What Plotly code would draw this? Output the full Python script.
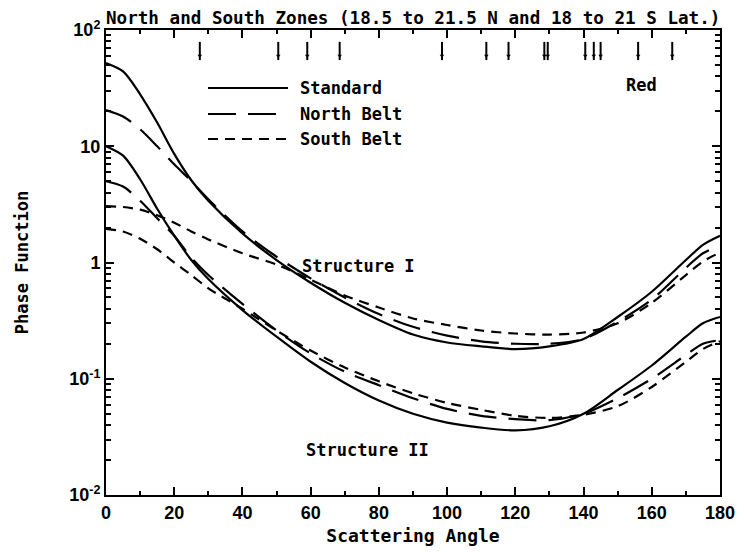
import plotly.graph_objects as go

# ---------------- data ----------------
angles = [0, 5, 10, 15, 20, 25, 30, 40, 50, 60, 70, 80, 90, 100, 110, 120,
          130, 140, 150, 160, 170, 175, 180]

# Structure I
std_I = [52, 44, 28, 16, 8.6, 5.1, 3.4, 1.78, 1.05, 0.67, 0.45, 0.32, 0.24,
         0.205, 0.19, 0.18, 0.19, 0.22, 0.34, 0.56, 1.05, 1.42, 1.7]
north_I = [20.5, 18, 14, 10, 7.0, 5.0, 3.5, 1.85, 1.12, 0.73, 0.5, 0.36, 0.28,
           0.235, 0.21, 0.2, 0.2, 0.22, 0.31, 0.48, 0.9, 1.2, 1.4]
south_I = [3.05, 3.0, 2.85, 2.55, 2.2, 1.85, 1.58, 1.2, 0.96, 0.71, 0.52,
           0.41, 0.33, 0.29, 0.26, 0.245, 0.24, 0.25, 0.3, 0.45, 0.78, 1.02, 1.22]

# Structure II
std_II = [10, 8.3, 5.2, 2.9, 1.7, 1.05, 0.72, 0.39, 0.23, 0.14, 0.092, 0.065,
          0.05, 0.042, 0.038, 0.036, 0.039, 0.05, 0.08, 0.13, 0.23, 0.3, 0.34]
north_II = [5.0, 4.5, 3.4, 2.4, 1.7, 1.1, 0.78, 0.44, 0.26, 0.165, 0.115,
            0.088, 0.068, 0.055, 0.048, 0.045, 0.044, 0.05, 0.068, 0.1, 0.16,
            0.2, 0.215]
south_II = [1.95, 1.85, 1.6, 1.3, 1.0, 0.78, 0.6, 0.4, 0.26, 0.175, 0.125,
            0.095, 0.075, 0.062, 0.054, 0.048, 0.046, 0.049, 0.058, 0.085,
            0.14, 0.18, 0.21]

# marker ticks along the top of the panel (scattering angles)
top_marks = [27.5, 50.5, 59, 68.5, 98.5, 111.5, 118, 128.5, 129.5, 140.5,
             143, 145, 156, 166]
top_mark_level = 66
top_mark_head_level = 60

x_ticks = list(range(0, 181, 20))
y_tickvals = [0.01, 0.1, 1, 10, 100]
y_ticktext = ["10<sup>-2</sup>", "10<sup>-1</sup>", "1", "10", "10<sup>2</sup>"]

title_text = "North and South Zones (18.5 to 21.5 N and 18 to 21 S Lat.)"
legend_names = ["Standard", "North Belt", "South Belt"]

# ---------------- style ----------------
FONT = "DejaVu Sans Mono"
TICKFONT = "Liberation Sans"
OFF = 8                      # default page margin around the plot div
PAGE_W, PAGE_H = 744, 552
W, H = PAGE_W - OFF, PAGE_H - OFF
# plot frame in page pixels: left 106, right 720, top 30, bottom 495
L, T = 106 - OFF, 30 - OFF
R = W - (720 - OFF)
B = H - (495 - OFF)
PW, PH = W - L - R, H - T - B
DASH = {"Standard": "solid", "North Belt": "28px,12px", "South Belt": "10px,7px"}


def px_to_paper(x, y):
    """page pixel -> paper coordinates"""
    x, y = x - OFF, y - OFF
    return (x - L) / PW, (H - B - y) / PH


fig = go.Figure()

series = [(std_I, "Standard"), (north_I, "North Belt"), (south_I, "South Belt"),
          (std_II, "Standard"), (north_II, "North Belt"), (south_II, "South Belt")]
for ys, name in series:
    fig.add_trace(go.Scatter(
        x=angles, y=ys, mode="lines", name=name, showlegend=False,
        line=dict(color="black", width=2.2, dash=DASH[name], shape="spline",
                  smoothing=0.8)))

fig.add_trace(go.Scatter(
    x=top_marks, y=[top_mark_level] * len(top_marks), mode="markers",
    showlegend=False,
    marker=dict(symbol="line-ns", size=13, line=dict(color="black", width=2))))
fig.add_trace(go.Scatter(
    x=top_marks, y=[top_mark_head_level] * len(top_marks), mode="markers",
    showlegend=False,
    marker=dict(symbol="triangle-down", size=4, color="black")))

# custom legend (long sample lines as in the original)
legend_y = [88, 114, 139]
for name, py in zip(legend_names, legend_y):
    x0, y0 = px_to_paper(208, py)
    x1, _ = px_to_paper(288, py)
    fig.add_shape(type="line", xref="paper", yref="paper", x0=x0, x1=x1,
                  y0=y0, y1=y0, line=dict(color="black", width=2,
                                          dash=DASH[name]))
    tx, ty = px_to_paper(298, py)
    fig.add_annotation(xref="paper", yref="paper", x=tx, y=ty, text=name,
                       showarrow=False, xanchor="left", yanchor="middle",
                       font=dict(family=FONT, size=17, color="black",
                                 weight="bold"))

labels = [("Red", 641, 85), ("Structure I", 358, 266), ("Structure II", 367, 450)]
for text, px, py in labels:
    ax, ay = px_to_paper(px, py)
    fig.add_annotation(xref="paper", yref="paper", x=ax, y=ay, text=text,
                       showarrow=False, xanchor="center", yanchor="middle",
                       font=dict(family=FONT, size=17, color="black",
                                 weight="bold"))

fig.add_annotation(xref="paper", yref="paper", x=0.5, y=1, yshift=0,
                   text=title_text, showarrow=False, xanchor="center",
                   yanchor="bottom",
                   font=dict(family=FONT, size=17.6, color="black",
                             weight="bold"))

axis_common = dict(showline=True, linecolor="black", linewidth=2,
                   mirror="allticks", ticks="inside", tickcolor="black",
                   tickwidth=2, showgrid=False, zeroline=False,
                   automargin=False)

minor_y = [k * 10 ** e for e in range(-2, 2) for k in range(2, 10)]

fig.update_xaxes(range=[0, 180], tickvals=x_ticks, ticklen=8,
                 minor=dict(dtick=10, ticks="inside", ticklen=4,
                            tickcolor="black", tickwidth=2),
                 title=dict(text="Scattering Angle", standoff=8,
                            font=dict(family=FONT, size=18, color="black",
                                      weight="bold")),
                 tickfont=dict(family=TICKFONT, size=18, color="black",
                               weight="bold"),
                 **axis_common)
fig.update_yaxes(type="log", range=[-2, 2], tickvals=y_tickvals,
                 ticktext=y_ticktext, ticklen=8,
                 minor=dict(tickvals=minor_y, ticks="inside", ticklen=5,
                            tickcolor="black", tickwidth=1.5),
                 title=dict(text="Phase Function", standoff=36,
                            font=dict(family=FONT, size=17, color="black",
                                      weight="bold")),
                 tickfont=dict(family=TICKFONT, size=18, color="black",
                               weight="bold"),
                 **axis_common)

fig.update_layout(width=W, height=H, margin=dict(l=L, r=R, t=T, b=B),
                  paper_bgcolor="white", plot_bgcolor="white",
                  showlegend=False)

fig.write_html("out.html")
